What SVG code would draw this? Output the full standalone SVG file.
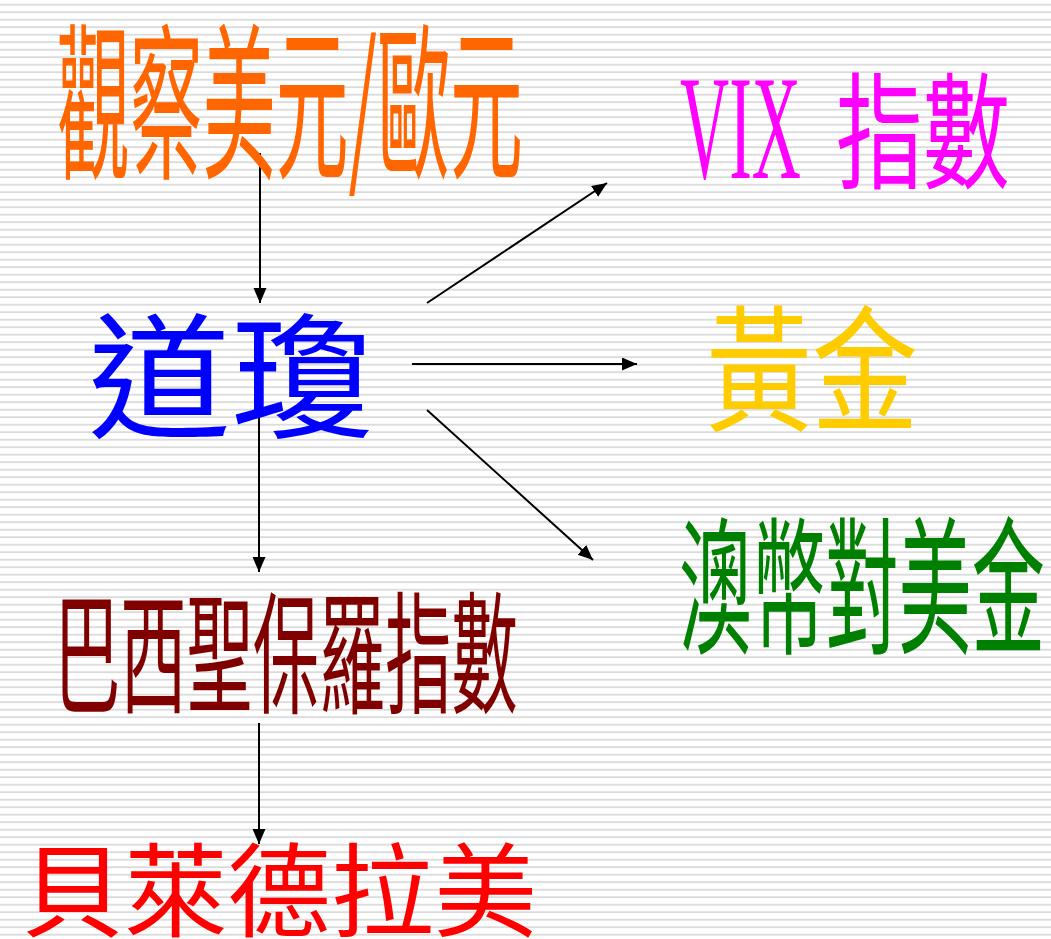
<svg xmlns="http://www.w3.org/2000/svg" width="1051" height="939" viewBox="0 0 1051 939">
<defs>
<pattern id="lines" patternUnits="userSpaceOnUse" x="0" y="0" width="1051" height="7.5">
<rect x="0" y="3.8" width="1051" height="1.8" fill="#dadada"/>
</pattern>
<marker id="ah" markerUnits="userSpaceOnUse" markerWidth="16" markerHeight="14" refX="15" refY="6.5" orient="auto">
<path d="M0,0 L15,6.5 L0,13 z" fill="#000"/>
</marker>
</defs>
<style>
.cn{font-family:"Noto Sans CJK TC","Noto Sans CJK SC",sans-serif;}
.c{stroke:#000;stroke-width:2;fill:none;marker-end:url(#ah);}
</style>
<rect x="0" y="0" width="1051" height="939" fill="#ffffff"/>
<rect x="0" y="0" width="1051" height="939" fill="url(#lines)"/>
<g id="connectors">
<line class="c" x1="260" y1="153" x2="260" y2="303"/>
<line class="c" x1="259" y1="395" x2="259" y2="572"/>
<line class="c" x1="259" y1="723" x2="259" y2="844"/>
<line class="c" x1="427" y1="303" x2="607" y2="183"/>
<line class="c" x1="412" y1="364" x2="637" y2="364"/>
<line class="c" x1="427" y1="410" x2="593" y2="560"/>
</g>
<g id="node-usd-eur">
<text class="cn" transform="translate(57,166) scale(0.4367,1)" font-size="168" fill="#FF6600" textLength="1067" lengthAdjust="spacingAndGlyphs">觀察美元/歐元</text>
</g>
<g id="node-dow">
<text class="cn" transform="translate(88,428) scale(1.0515,1)" font-size="136" fill="#0000FF" textLength="272" lengthAdjust="spacingAndGlyphs">道瓊</text>
</g>
<g id="node-vix">
<text transform="translate(680,178) scale(0.46,1)" font-family="Liberation Serif, serif" font-size="148" fill="#FF00FF" textLength="263" lengthAdjust="spacingAndGlyphs">VIX</text>
<text class="cn" transform="translate(836,179) scale(0.69,1)" font-size="126" fill="#FF00FF" textLength="252" lengthAdjust="spacingAndGlyphs">指數</text>
</g>
<g id="node-gold">
<text class="cn" transform="translate(706,421) scale(0.779,1)" font-size="136" fill="#FFCC00" textLength="272" lengthAdjust="spacingAndGlyphs">黃金</text>
</g>
<g id="node-aud">
<text class="cn" transform="translate(679,642) scale(0.4946,1)" font-size="148" fill="#008000" textLength="740" lengthAdjust="spacingAndGlyphs">澳幣對美金</text>
</g>
<g id="node-bovespa">
<text class="cn" transform="translate(54,703) scale(0.502,1)" font-size="132" fill="#800000" textLength="924" lengthAdjust="spacingAndGlyphs">巴西聖保羅指數</text>
</g>
<g id="node-blackrock">
<text class="cn" transform="translate(21,929) scale(1.012,1)" font-size="102" fill="#FF0000" textLength="510" lengthAdjust="spacingAndGlyphs">貝萊德拉美</text>
</g>
</svg>
